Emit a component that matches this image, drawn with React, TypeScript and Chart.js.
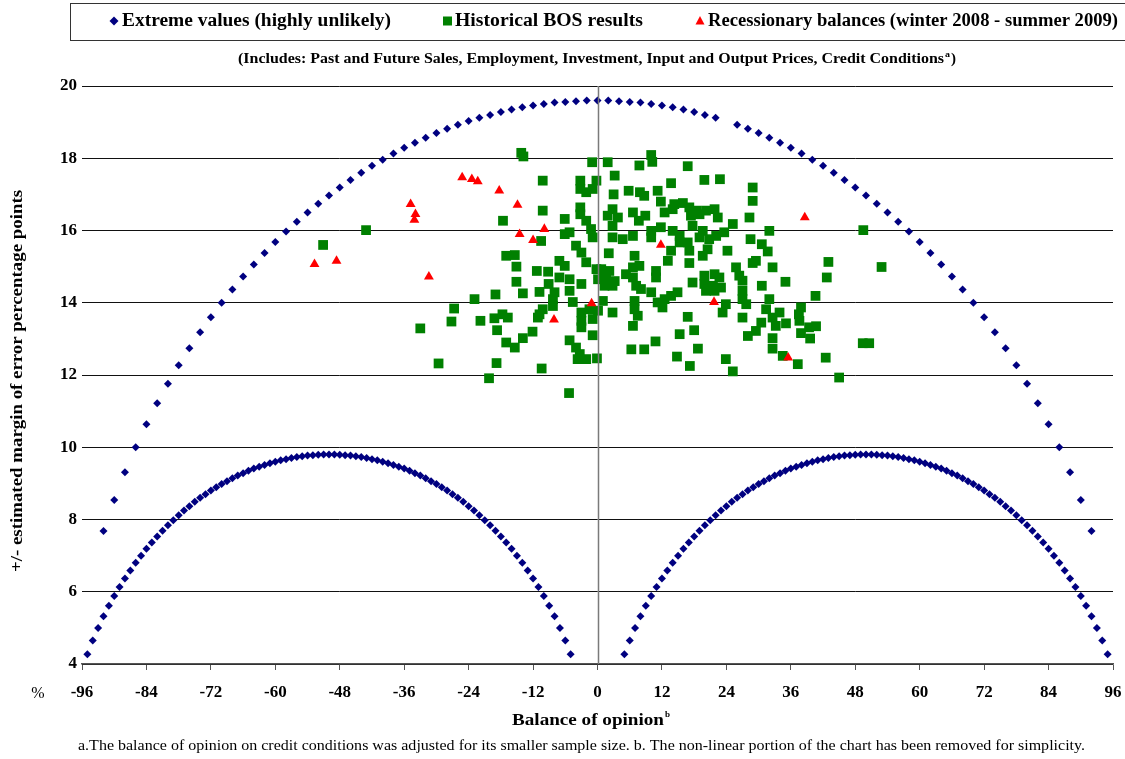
import React, { useEffect, useRef } from "react";
import { Chart, registerables } from "chart.js";
Chart.register(...registerables);

const SERIF = '"Liberation Serif", "Times New Roman", serif';

// ---------- axis ticks ----------
const xTickValues = [-96, -84, -72, -60, -48, -36, -24, -12, 0, 12, 24, 36, 48, 60, 72, 84, 96];
const yTickValues = [4, 6, 8, 10, 12, 14, 16, 18, 20];

// ---------- Extreme values: outer arc (balance, margin) ----------
const outerArcBalance = [-92, -90, -88, -86, -84, -82, -80, -78, -76, -74, -72, -70, -68, -66, -64, -62, -60, -58, -56, -54, -52, -50, -48, -46, -44, -42, -40, -38, -36, -34, -32, -30, -28, -26, -24, -22, -20, -18, -16, -14, -12, -10, -8, -6, -4, -2, 0, 2, 4, 6, 8, 10, 12, 14, 16, 18, 20, 22, 26, 28, 30, 32, 34, 36, 38, 40, 42, 44, 46, 48, 50, 52, 54, 56, 58, 60, 62, 64, 66, 68, 70, 72, 74, 76, 78, 80, 82, 84, 86, 88, 90, 92];
const outerArcMargin = [7.68, 8.54, 9.31, 10.0, 10.64, 11.22, 11.76, 12.27, 12.74, 13.18, 13.6, 14.0, 14.37, 14.73, 15.06, 15.38, 15.68, 15.97, 16.24, 16.5, 16.74, 16.97, 17.19, 17.4, 17.6, 17.79, 17.96, 18.13, 18.29, 18.43, 18.57, 18.7, 18.82, 18.93, 19.03, 19.12, 19.2, 19.28, 19.35, 19.41, 19.46, 19.5, 19.54, 19.56, 19.58, 19.6, 19.6, 19.6, 19.58, 19.56, 19.54, 19.5, 19.46, 19.41, 19.35, 19.28, 19.2, 19.12, 18.93, 18.82, 18.7, 18.57, 18.43, 18.29, 18.13, 17.96, 17.79, 17.6, 17.4, 17.19, 16.97, 16.74, 16.5, 16.24, 15.97, 15.68, 15.38, 15.06, 14.73, 14.37, 14.0, 13.6, 13.18, 12.74, 12.27, 11.76, 11.22, 10.64, 10.0, 9.31, 8.54, 7.68];

// ---------- Extreme values: inner arcs (|balance|, margin); left arc uses negative balances ----------
const innerArcBalance = [5, 6, 7, 8, 9, 10, 11, 12, 13, 14, 15, 16, 17, 18, 19, 20, 21, 22, 23, 24, 25, 26, 27, 28, 29, 30, 31, 32, 33, 34, 35, 36, 37, 38, 39, 40, 41, 42, 43, 44, 45, 46, 47, 48, 49, 50, 51, 52, 53, 54, 55, 56, 57, 58, 59, 60, 61, 62, 63, 64, 65, 66, 67, 68, 69, 70, 71, 72, 73, 74, 75, 76, 77, 78, 79, 80, 81, 82, 83, 84, 85, 86, 87, 88, 89, 90, 91, 92, 93, 94, 95];
const innerArcMargin = [4.27, 4.65, 5.0, 5.32, 5.61, 5.88, 6.13, 6.37, 6.59, 6.8, 7.0, 7.19, 7.36, 7.53, 7.69, 7.84, 7.98, 8.12, 8.25, 8.37, 8.49, 8.6, 8.7, 8.8, 8.89, 8.98, 9.06, 9.14, 9.22, 9.28, 9.35, 9.41, 9.46, 9.51, 9.56, 9.6, 9.64, 9.67, 9.7, 9.73, 9.75, 9.77, 9.78, 9.79, 9.8, 9.8, 9.8, 9.79, 9.78, 9.77, 9.75, 9.73, 9.7, 9.67, 9.64, 9.6, 9.56, 9.51, 9.46, 9.41, 9.35, 9.28, 9.22, 9.14, 9.06, 8.98, 8.89, 8.8, 8.7, 8.6, 8.49, 8.37, 8.25, 8.12, 7.98, 7.84, 7.69, 7.53, 7.36, 7.19, 7.0, 6.8, 6.59, 6.37, 6.13, 5.88, 5.61, 5.32, 5.0, 4.65, 4.27];

// ---------- Historical BOS results ----------
const histBalanceFarLeft = [-43.1, -51.1, -26.7, -27.2, -33.0, -29.6];
const histMarginFarLeft = [16.01, 15.6, 13.84, 13.48, 13.29, 12.32];

const histBalanceLeft = [-14.2, -13.8, -1.0, -10.2, -3.2, -3.2, -0.2, -0.9, -2.1, -10.2, -3.2, -3.2, -2.1, -6.1, -17.6, -1.2, -0.9, -6.1, -5.2, -10.5, -4.0, -3.0, -2.1, -17.0, -15.4, -15.1, -7.1, -6.1, -11.3, -9.2, -7.1, -5.2, -0.2, 0.1, 1.0, -15.1, -9.1, -10.8, -8.0, -5.2, -3.0, -13.9, -19.0, -22.9, -8.3, -8.3, -4.6, -21.8, -19.2, -17.7, -16.7, -10.8, -10.2, -11.1, -3.0, -3.0, -3.0, -0.9, -1.5, 0.1, -18.7, -12.1, -13.9, -17.0, -15.4, -5.2, -4.0, -3.3, -3.7, -2.1, -0.9, -0.1, -18.8, -10.4, -20.2, -5.3];
const histMarginLeft = [18.15, 18.05, 17.89, 17.38, 17.38, 17.15, 17.38, 17.15, 17.06, 16.55, 16.64, 16.45, 16.27, 16.32, 16.27, 16.04, 15.81, 15.9, 15.95, 15.71, 15.58, 15.39, 15.12, 15.3, 15.32, 15.0, 15.16, 15.02, 14.88, 14.86, 14.7, 14.65, 14.93, 14.65, 14.75, 14.58, 14.52, 14.3, 14.29, 14.33, 14.52, 14.26, 14.23, 14.1, 14.1, 13.91, 14.02, 13.5, 13.57, 13.68, 13.59, 13.68, 13.82, 13.59, 13.73, 13.5, 13.32, 13.55, 13.82, 13.78, 13.24, 13.2, 13.02, 12.9, 12.76, 12.96, 12.76, 12.58, 12.44, 12.44, 13.1, 12.46, 12.33, 12.18, 11.91, 11.5];

const histBalanceMid = [10.0, 10.2, 1.9, 7.8, 16.8, 3.2, 19.9, 22.8, 13.7, 5.8, 7.9, 8.7, 11.2, 3.0, 28.9, 28.9, 11.8, 14.3, 15.9, 17.1, 18.4, 20.2, 21.8, 22.4, 12.5, 14.0, 17.4, 19.0, 2.8, 1.9, 3.8, 6.6, 8.9, 7.7, 28.3, 25.2, 2.8, 2.8, 4.7, 6.6, 10.0, 11.8, 10.0, 14.0, 15.3, 15.3, 16.8, 17.7, 19.6, 19.0, 20.8, 22.1, 23.6, 24.2, 20.5, 19.6, 17.1, 13.7, 13.1, 2.1, 6.9, 17.1, 7.8, 6.6, 0.7, 2.2, 1.6, 3.2, 5.3, 6.6, 10.9, 10.9, 25.8, 26.4, 27.0, 19.9, 21.8, 22.7, 19.9, 21.5, 23.0, 20.2, 21.8, 17.7, 1.3, 2.8, 7.2, 8.1, 10.0, 14.9, 13.7, 12.5, 11.2, 12.1, 27.0, 27.0, 27.7, 23.9, 23.3, 6.9, 6.9, 7.5, 6.6, 1.0, 2.8, 16.8, 27.0, 29.5, 28.0, 18.0, 15.3, 10.8, 8.7, 6.3, 18.7, 14.8, 17.2, 23.9, 25.2];
const histMarginMid = [18.09, 17.9, 17.89, 17.8, 17.78, 17.52, 17.4, 17.42, 17.31, 17.1, 17.06, 16.96, 17.1, 17.0, 17.19, 16.82, 16.8, 16.73, 16.76, 16.64, 16.55, 16.55, 16.59, 16.36, 16.5, 16.59, 16.41, 16.45, 16.59, 16.41, 16.36, 16.5, 16.41, 16.27, 16.36, 16.18, 16.13, 15.81, 15.76, 15.85, 15.99, 16.09, 15.81, 15.99, 15.85, 15.67, 15.67, 16.13, 15.99, 15.81, 15.76, 15.85, 15.95, 15.44, 15.48, 15.3, 15.44, 15.44, 15.16, 15.37, 15.3, 15.1, 15.02, 14.98, 14.93, 14.88, 14.65, 14.6, 14.79, 14.7, 14.88, 14.7, 14.98, 14.75, 14.61, 14.75, 14.79, 14.7, 14.52, 14.47, 14.42, 14.33, 14.33, 14.56, 14.47, 14.47, 14.47, 14.38, 14.29, 14.29, 14.19, 14.1, 14.01, 13.87, 14.33, 14.1, 13.96, 13.96, 13.73, 14.05, 13.82, 13.64, 13.36, 14.05, 13.73, 13.61, 13.59, 13.22, 13.08, 13.24, 13.13, 12.93, 12.71, 12.71, 12.73, 12.51, 12.25, 12.44, 12.1];

const histBalanceRight = [32.0, 49.5, 28.5, 30.6, 31.7, 29.5, 28.9, 43.0, 52.9, 32.6, 42.7, 35.0, 30.6, 40.6, 32.0, 31.4, 33.9, 37.9, 37.5, 32.6, 30.5, 33.2, 35.1, 37.6, 39.4, 40.7, 37.9, 39.6, 32.6, 32.6, 34.5, 37.3, 42.5, 49.4, 50.6, 45.0];
const histMarginRight = [15.99, 16.01, 15.76, 15.62, 15.42, 15.16, 15.1, 15.13, 14.99, 14.98, 14.7, 14.58, 14.47, 14.19, 14.1, 13.82, 13.73, 13.87, 13.68, 13.59, 13.45, 13.36, 13.43, 13.5, 13.32, 13.35, 13.16, 13.01, 13.02, 12.73, 12.53, 12.3, 12.48, 12.88, 12.88, 11.93];

// ---------- Recessionary balances ----------
const recessBalance = [-52.7, -48.6, -34.8, -33.9, -34.1, -31.4, -25.2, -23.4, -22.3, -18.3, -14.9, -14.5, -12.0, -9.9, -8.1, -1.1, 11.8, 21.7, 35.5, 38.6];
const recessMargin = [15.07, 15.16, 16.73, 16.45, 16.29, 14.72, 17.47, 17.42, 17.36, 17.1, 16.71, 15.9, 15.73, 16.04, 13.53, 13.98, 15.6, 14.02, 12.48, 16.36];

// ---------- texts ----------
const legendLabels = [
  "Extreme values (highly unlikely)",
  "Historical BOS results",
  "Recessionary balances (winter 2008 - summer 2009)",
];
const subtitleText = "(Includes: Past and Future Sales, Employment, Investment, Input and Output Prices, Credit Conditions";
const yTitle = "+/- estimated margin of error percentage points";
const xTitle = "Balance of opinion";
const footnote = "a.The balance of opinion on credit conditions was adjusted for its smaller sample size. b. The non-linear portion of the chart has been removed for simplicity.";

const NAVY = "#000080";
const GREEN = "#008000";
const RED = "#ff0000";

function pairs(xs: number[], ys: number[], sign = 1) {
  return xs.map((x, i) => ({ x: sign * x, y: ys[i] }));
}

function drawFit(ctx: CanvasRenderingContext2D, text: string, x: number, y: number, font: string, width: number, align: "left" | "center" = "left") {
  ctx.save();
  ctx.font = font;
  const w = ctx.measureText(text).width;
  const sx = width / w;
  ctx.textBaseline = "middle";
  ctx.textAlign = "left";
  const left = align === "center" ? x - width / 2 : x;
  ctx.translate(left, y);
  ctx.scale(sx, 1);
  ctx.fillStyle = "#000";
  ctx.fillText(text, 0, 0);
  ctx.restore();
}

const decorPlugin = {
  id: "decor",
  afterDatasetsDraw(chart: any) {
    const ctx = chart.ctx as CanvasRenderingContext2D;
    const xs = chart.scales.x;
    const area = chart.chartArea;
    const x0 = Math.round(xs.getPixelForValue(0)) + 0.5;
    ctx.save();
    ctx.strokeStyle = "#7a7a7a";
    ctx.lineWidth = 1.5;
    ctx.beginPath();
    ctx.moveTo(x0, area.top);
    ctx.lineTo(x0, area.bottom);
    ctx.stroke();
    ctx.restore();
  },
  afterDraw(chart: any) {
    const ctx = chart.ctx as CanvasRenderingContext2D;
    ctx.save();
    // legend box
    ctx.strokeStyle = "#333";
    ctx.lineWidth = 1;
    ctx.strokeRect(70.5, 3.5, 1070, 37);
    const ly = 21;
    // diamond
    ctx.fillStyle = NAVY;
    ctx.beginPath();
    ctx.moveTo(114, ly - 4.5);
    ctx.lineTo(118.5, ly);
    ctx.lineTo(114, ly + 4.5);
    ctx.lineTo(109.5, ly);
    ctx.closePath();
    ctx.fill();
    drawFit(ctx, legendLabels[0], 122, ly, `bold 18px ${SERIF}`, 269);
    // square
    ctx.fillStyle = GREEN;
    ctx.fillRect(443, ly - 4.5, 9, 9);
    drawFit(ctx, legendLabels[1], 455, ly, `bold 18px ${SERIF}`, 188);
    // triangle
    ctx.fillStyle = RED;
    ctx.beginPath();
    ctx.moveTo(700, ly - 5);
    ctx.lineTo(704.5, ly + 3.5);
    ctx.lineTo(695.5, ly + 3.5);
    ctx.closePath();
    ctx.fill();
    drawFit(ctx, legendLabels[2], 708, ly, `bold 18px ${SERIF}`, 410);

    // subtitle
    drawFit(ctx, subtitleText, 238, 59, `bold 14px ${SERIF}`, 706);
    drawFit(ctx, "a", 945, 55, `bold 8px ${SERIF}`, 5);
    drawFit(ctx, ")", 951, 59, `bold 14px ${SERIF}`, 5);

    // y title
    ctx.save();
    ctx.translate(18, 381);
    ctx.rotate(-Math.PI / 2);
    drawFit(ctx, yTitle, 0, 0, `bold 17px ${SERIF}`, 382, "center");
    ctx.restore();

    // % label
    ctx.fillStyle = "#000";
    ctx.font = `16px ${SERIF}`;
    ctx.textAlign = "center";
    ctx.textBaseline = "middle";
    ctx.fillText("%", 38, 694);

    // x title
    drawFit(ctx, xTitle, 512, 721, `bold 17px ${SERIF}`, 152);
    drawFit(ctx, "b", 665, 715, `bold 9px ${SERIF}`, 5);

    // footnote
    drawFit(ctx, footnote, 78, 746, `14px ${SERIF}`, 1007);
    ctx.restore();
  },
};

export default function App() {
  const ref = useRef<HTMLCanvasElement | null>(null);
  useEffect(() => {
    if (!ref.current) return;
    const extreme = [
      ...pairs(innerArcBalance, innerArcMargin, -1),
      ...pairs(outerArcBalance, outerArcMargin),
      ...pairs(innerArcBalance, innerArcMargin, 1),
    ];
    const hist = [
      ...pairs(histBalanceFarLeft, histMarginFarLeft),
      ...pairs(histBalanceLeft, histMarginLeft),
      ...pairs(histBalanceMid, histMarginMid),
      ...pairs(histBalanceRight, histMarginRight),
    ];
    const recess = pairs(recessBalance, recessMargin);
    const tickFont = { family: SERIF, size: 17, weight: "bold" as const };
    const chart = new Chart(ref.current, {
      type: "scatter",
      data: {
        datasets: [
          {
            label: legendLabels[0],
            data: extreme,
            pointStyle: "rectRot",
            pointRadius: 4,
            backgroundColor: NAVY,
            borderColor: NAVY,
            borderWidth: 0,
            order: 2,
          },
          {
            label: legendLabels[1],
            data: hist,
            pointStyle: "rect",
            pointRadius: 6.9,
            backgroundColor: GREEN,
            borderColor: GREEN,
            borderWidth: 0,
            order: 1,
          },
          {
            label: legendLabels[2],
            data: recess,
            pointStyle: "triangle",
            pointRadius: 5.7,
            backgroundColor: RED,
            borderColor: RED,
            borderWidth: 0,
            order: 0,
          },
        ],
      },
      options: {
        animation: false,
        responsive: false,
        devicePixelRatio: 1,
        layout: { padding: { left: 0, right: 12, top: 86, bottom: 0 } },
        plugins: { legend: { display: false }, tooltip: { enabled: false } },
        scales: {
          x: {
            type: "linear",
            min: -96,
            max: 96,
            afterFit: (s: any) => {
              s.height = 95;
              s.paddingLeft = 0;
              s.paddingRight = 0;
            },
            afterBuildTicks: (s: any) => {
              s.ticks = xTickValues.map((v) => ({ value: v }));
            },
            ticks: { autoSkip: false, maxRotation: 0, font: tickFont, color: "#000", padding: 12 },
            grid: { drawOnChartArea: false, drawTicks: true, tickLength: 6, color: "#555", lineWidth: 1 },
            border: { display: true, color: "#555", width: 1.5 },
          },
          y: {
            type: "linear",
            min: 4,
            max: 20,
            afterFit: (s: any) => {
              s.width = 82;
              s.paddingTop = 0;
              s.paddingBottom = 0;
            },
            afterBuildTicks: (s: any) => {
              s.ticks = yTickValues.map((v) => ({ value: v }));
            },
            ticks: { font: tickFont, color: "#000", padding: 5 },
            grid: { color: "#111", lineWidth: 1, drawTicks: false },
            border: { display: false },
          },
        },
      },
      plugins: [decorPlugin],
    });
    return () => chart.destroy();
  }, []);
  return (
    <div style={{ position: "fixed", left: 0, top: 0, width: 1125, height: 759, background: "#fff" }}>
      <canvas ref={ref} width={1125} height={759} style={{ display: "block" }} />
    </div>
  );
}
